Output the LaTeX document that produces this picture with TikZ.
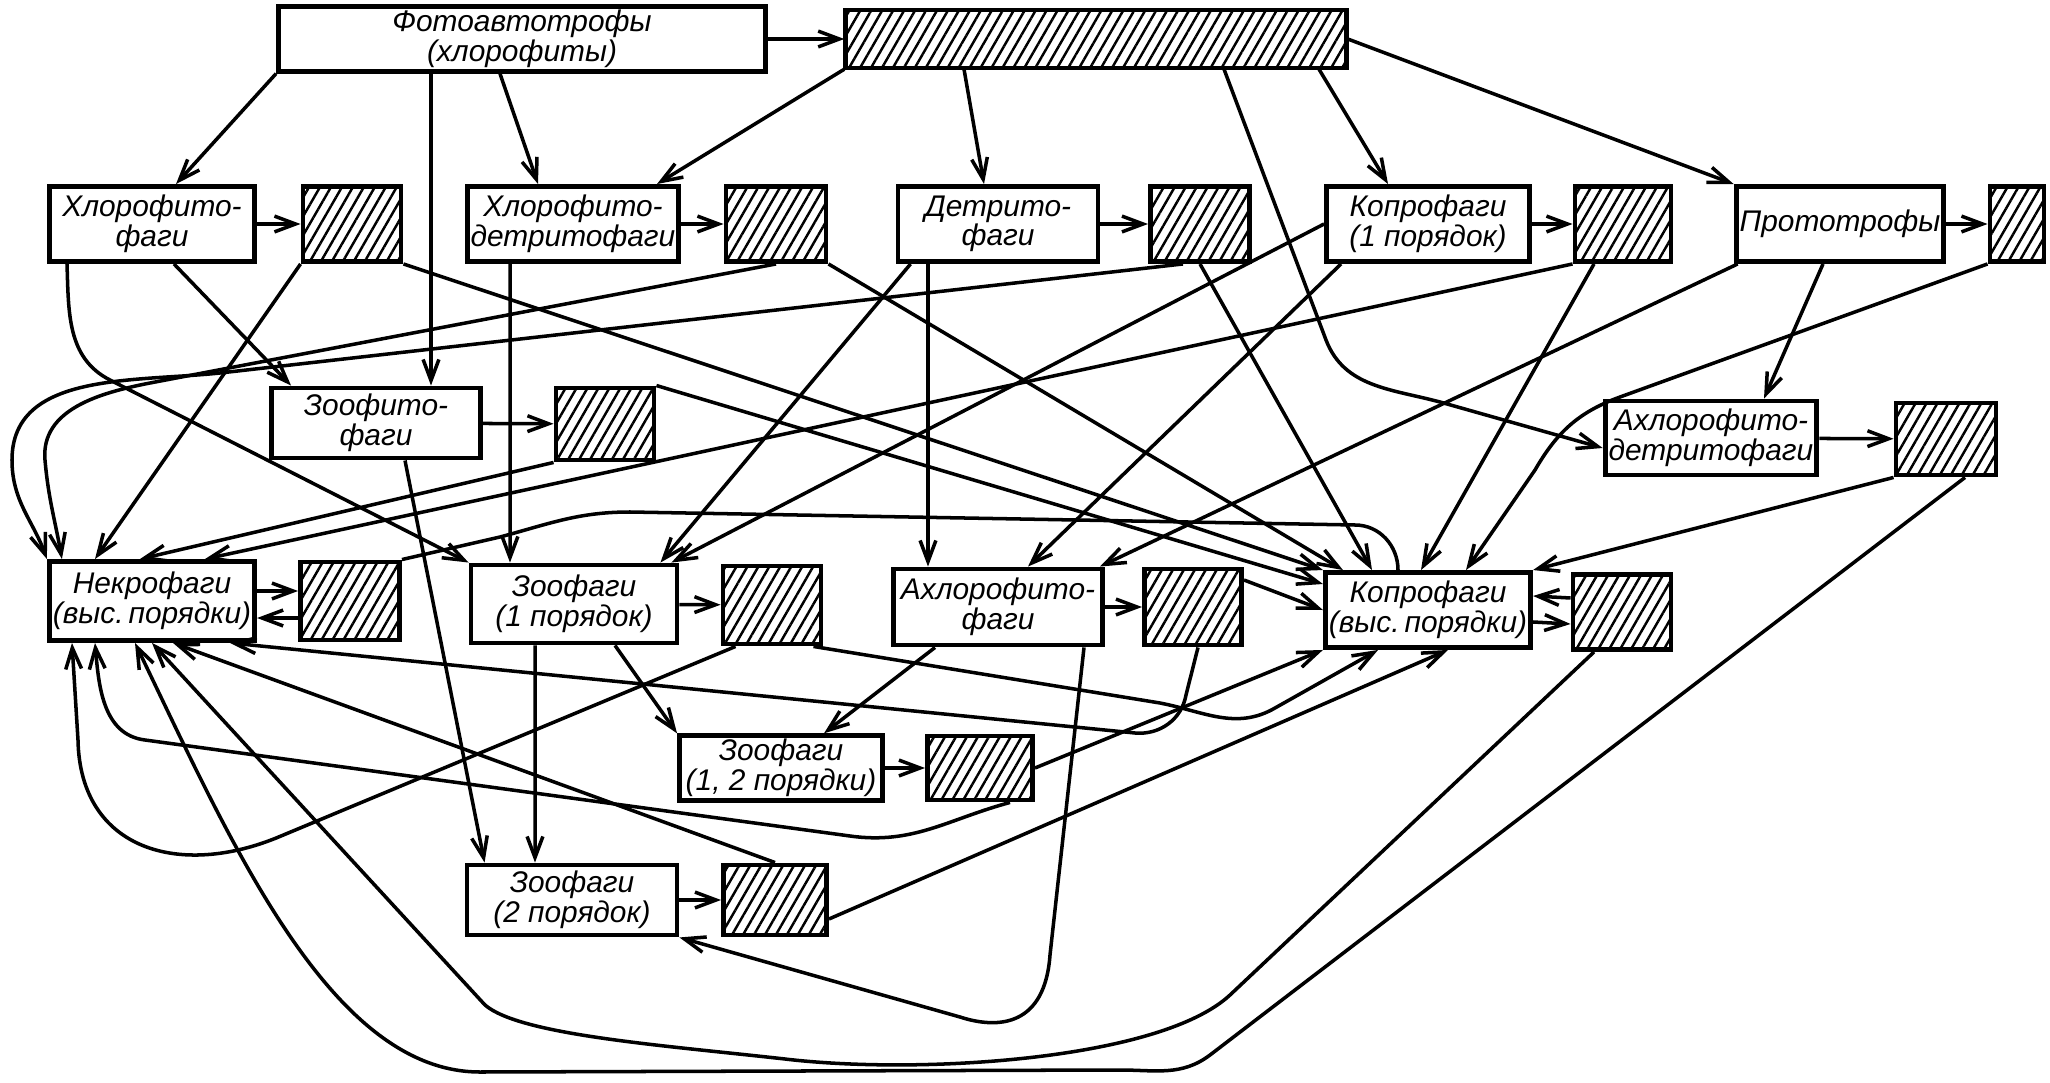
\documentclass[tikz,border=0pt]{standalone}
\usepackage{fontspec}
\setmainfont{Liberation Sans}
\usetikzlibrary{positioning, arrows.meta, patterns.meta}

\begin{document}
\begin{tikzpicture}[
    box/.style={draw, line width=1.4pt, fill=white, align=center, inner sep=1pt,
        font=\itshape\fontsize{8.5}{8.4}\selectfont},
    hatchbox/.style={draw, line width=1.4pt, inner sep=0pt,
        pattern={Lines[angle=60,distance=2.7pt,line width=0.7pt]}},
    flow/.style={line width=1pt, -{Straight Barb[length=6pt,width=4.5pt]}},
    plain/.style={line width=1pt}
]
    \useasboundingbox (0,0) rectangle (20.5,-10.83);

    % tikz code goes here
    \node[box, minimum width=4.87cm, minimum height=0.58cm] (1) at (5.22,-0.39) {Фотоавтотрофы\\(хлорофиты)};
    \node[hatchbox, minimum width=5.01cm, minimum height=0.58cm] (2) at (10.96,-0.39) {};

    \node[box, minimum width=2.05cm, minimum height=0.75cm] (3) at (1.52,-2.24) {Хлорофито-\\фаги};
    \node[hatchbox, minimum width=0.98cm, minimum height=0.75cm] (4) at (3.52,-2.24) {};
    \node[box, minimum width=2.0cm, minimum height=0.75cm] (5) at (5.73,-2.24) {Хлорофито-\\детритофаги};
    \node[hatchbox, minimum width=1.0cm, minimum height=0.75cm] (6) at (7.76,-2.24) {};
    \node[box, minimum width=2.0cm, minimum height=0.75cm] (7) at (9.98,-2.24) {Детрито-\\фаги};
    \node[hatchbox, minimum width=0.99cm, minimum height=0.75cm] (8) at (12.0,-2.24) {};
    \node[box, minimum width=2.03cm, minimum height=0.75cm] (9) at (14.28,-2.24) {Копрофаги\\(1 порядок)};
    \node[hatchbox, minimum width=0.96cm, minimum height=0.75cm] (10) at (16.23,-2.24) {};
    \node[box, minimum width=2.01cm, minimum height=0.75cm] (11) at (18.40,-2.24) {Прототрофы};
    \node[hatchbox, minimum width=0.54cm, minimum height=0.75cm] (12) at (20.17,-2.24) {};

    \node[box, minimum width=2.09cm, minimum height=0.70cm] (13) at (3.76,-4.23) {Зоофито-\\фаги};
    \node[hatchbox, minimum width=0.98cm, minimum height=0.72cm] (14) at (6.05,-4.24) {};
    \node[box, minimum width=2.07cm, minimum height=0.74cm] (15) at (17.11,-4.38) {Ахлорофито-\\детритофаги};
    \node[hatchbox, minimum width=1.0cm, minimum height=0.72cm] (16) at (19.46,-4.39) {};

    \node[box, minimum width=2.05cm, minimum height=0.79cm] (17) at (1.52,-6.01) {Некрофаги\\(выс.\,порядки)};
    \node[hatchbox, minimum width=0.99cm, minimum height=0.78cm] (18) at (3.50,-6.01) {};
    \node[box, minimum width=2.06cm, minimum height=0.78cm] (19) at (5.74,-6.04) {Зоофаги\\(1 порядок)};
    \node[hatchbox, minimum width=0.98cm, minimum height=0.78cm] (20) at (7.72,-6.05) {};
    \node[box, minimum width=2.09cm, minimum height=0.76cm] (21) at (9.98,-6.07) {Ахлорофито-\\фаги};
    \node[hatchbox, minimum width=0.97cm, minimum height=0.76cm] (22) at (11.93,-6.07) {};
    \node[box, minimum width=2.03cm, minimum height=0.75cm] (23) at (14.28,-6.10) {Копрофаги\\(выс.\,порядки)};
    \node[hatchbox, minimum width=0.98cm, minimum height=0.75cm] (24) at (16.22,-6.12) {};

    \node[box, minimum width=2.03cm, minimum height=0.64cm] (25) at (7.81,-7.68) {Зоофаги\\(1, 2 порядки)};
    \node[hatchbox, minimum width=1.05cm, minimum height=0.64cm] (26) at (9.80,-7.68) {};
    \node[box, minimum width=2.10cm, minimum height=0.70cm] (27) at (5.72,-9.00) {Зоофаги\\(2 порядок)};
    \node[hatchbox, minimum width=1.03cm, minimum height=0.70cm] (28) at (7.75,-9.00) {};

    % to the hatched boxes
    \draw[flow] (1) edge (2) (3) edge (4) (5) edge (6) (7) edge (8) (9) edge (10) (11) edge (12)
                (13) edge (14) (15) edge (16) (19) edge (20) (21) edge (22) (25) edge (26) (27) edge (28);
    \draw[flow] ([yshift=1mm]17.east) -- ([yshift=1mm]18.west);
    \draw[flow] ([yshift=-1.7mm]18.west) -- ([yshift=-1.7mm]17.east);
    \draw[flow] ([yshift=-1.2mm]23.east) -- ([yshift=-1.2mm]24.west);
    \draw[flow] ([yshift=1.4mm]24.west) -- ([yshift=1.4mm]23.east);

    % top row
    \draw[flow] (1.south west) -- ([xshift=2.4mm]3.north);
    \draw[flow] ([xshift=-9.1mm]1.south) -- ([xshift=5.5mm]13.north);
    \draw[flow] ([xshift=-2.2mm]1.south) -- ([xshift=-3.5mm]5.north);
    \draw[flow] (2.south west) -- ([xshift=8.4mm]5.north);
    \draw[flow] ([xshift=-13.2mm]2.south) -- ([xshift=-1.4mm]7.north);
    \draw[flow] ([xshift=22.3mm]2.south) -- ([xshift=-4mm]9.north);
    \draw[flow] (2.east) -- (11.north west);
    \draw[flow] ([xshift=12.8mm]2.south) -- (13.26,-3.4) to[out=-69,in=165] (14.4,-4.02) -- ([yshift=-1mm]15.west);

    % second row
    \draw[flow] ([xshift=2.2mm]3.south) -- ([xshift=2.2mm]13.north west);
    \draw[flow] ([xshift=-8.5mm]3.south) to[out=-88,in=153] (1.1,-3.8) -- (19.north west);
    \draw[flow] (4.south west) -- ([xshift=-5.7mm]17.north);
    \draw[flow] (4.south east) -- (23.north west);
    \draw[flow] ([xshift=-6.3mm]5.south) -- ([xshift=-6.4mm]19.north);
    \draw[flow] (6.south) -- (1.5,-3.83) to[out=191,in=95] (0.45,-4.6) to[out=-85,in=100] ([xshift=1.5mm]17.north west);
    \draw[flow] (6.south east) -- ([xshift=2mm]23.north west);
    \draw[flow] ([xshift=1.5mm]7.south west) -- ([xshift=-1.9mm]19.north east);
    \draw[flow] ([xshift=-7mm]7.south) -- ([xshift=-7mm]21.north);
    \draw[flow] ([xshift=-1.7mm]8.south) -- (2.2,-3.73) to[out=186,in=90] (0.12,-4.6) to[out=-90,in=110] (17.north west);
    \draw[flow] (8.south) -- ([xshift=-5.6mm]23.north);
    \draw[flow] (9.west) -- ([xshift=-0.8mm]19.north east);
    \draw[flow] ([xshift=1.7mm]9.south west) -- ([xshift=3mm]21.north);
    \draw[flow] (10.south west) -- ([xshift=5.3mm]17.north);
    \draw[flow] ([xshift=-2.9mm]10.south) -- ([xshift=-0.7mm]23.north);
    \draw[flow] ([xshift=0.4mm]11.south west) -- ([xshift=-0.5mm]21.north east);
    \draw[flow] ([xshift=-1.7mm]11.south) -- ([xshift=5.3mm]15.north);
    \draw[flow] (12.south west) -- (16.2,-3.97) to[out=200,in=60] (15.35,-4.7) -- ([xshift=3.8mm]23.north);

    % third row
    \draw[flow] ([xshift=2.9mm]13.south) -- ([xshift=2mm]27.north west);
    \draw[flow] (14.south west) -- ([xshift=-1.2mm]17.north);
    \draw[flow] (14.north east) -- ([yshift=2.6mm]23.west);
    \draw[flow] (16.south west) -- (23.north east);
    \draw[flow] ([xshift=1.9mm]16.south) -- (12.1,-10.55) to[out=217,in=0] (11.2,-10.7) -- (4.8,-10.72)
        .. controls (3.3,-10.72) and (2.3,-8.4) .. ([xshift=-1.7mm]17.south);

    % fourth row
    \draw[plain] (18.north east) -- (5.0,-5.37) to[out=15,in=180] (6.3,-5.12) -- (13.55,-5.25)
        to[out=0,in=90] ([xshift=-3mm]23.north);
    \draw[flow] ([xshift=-3.9mm]19.south) -- ([xshift=-3.7mm]27.north);
    \draw[flow] ([xshift=4.1mm]19.south) -- (25.north west);
    \draw[flow] ([xshift=1.5mm]20.south west) -- (2.81,-8.36) .. controls (1.8,-8.79) and (0.8,-8.5) .. (0.78,-7.4)
        -- ([xshift=-8mm]17.south);
    \draw[flow] ([xshift=-1mm]20.south east) -- (11.6,-7.03) to[out=-11,in=210] (12.75,-7.08) -- ([xshift=-5mm]23.south);
    \draw[flow] ([xshift=-6.3mm]21.south) -- ([xshift=4.3mm]25.north);
    \draw[flow] ([xshift=8.6mm]21.south) -- (10.5,-9.55) .. controls (10.45,-10.25) and (10.0,-10.3) .. (9.6,-10.17)
        -- (27.south east);
    \draw[flow] ([yshift=2.7mm]22.east) -- (23.west);
    \draw[flow] ([xshift=0.5mm]22.south) -- (11.86,-6.95) to[out=-100,in=-5] (11.35,-7.33) -- ([xshift=7.8mm]17.south);
    \draw[flow] ([xshift=-2.8mm]24.south) -- (12.3,-9.95) .. controls (11.6,-10.6) and (9.2,-10.75) .. (7.85,-10.59)
        .. controls (6.6,-10.45) and (5.2,-10.35) .. (4.85,-10.05) -- (17.south);

    % lower rows
    \draw[flow] (26.east) -- (23.south west);
    \draw[flow] ([xshift=3mm]26.south) to[out=195,in=-8] (8.5,-8.36) -- (1.45,-7.4) to[out=173,in=-85] ([xshift=-5.7mm]17.south);
    \draw[flow] ([yshift=-1.9mm]28.east) -- ([xshift=2mm]23.south);
    \draw[flow] (28.north) -- ([xshift=2.1mm]17.south);
\end{tikzpicture}
\end{document}
